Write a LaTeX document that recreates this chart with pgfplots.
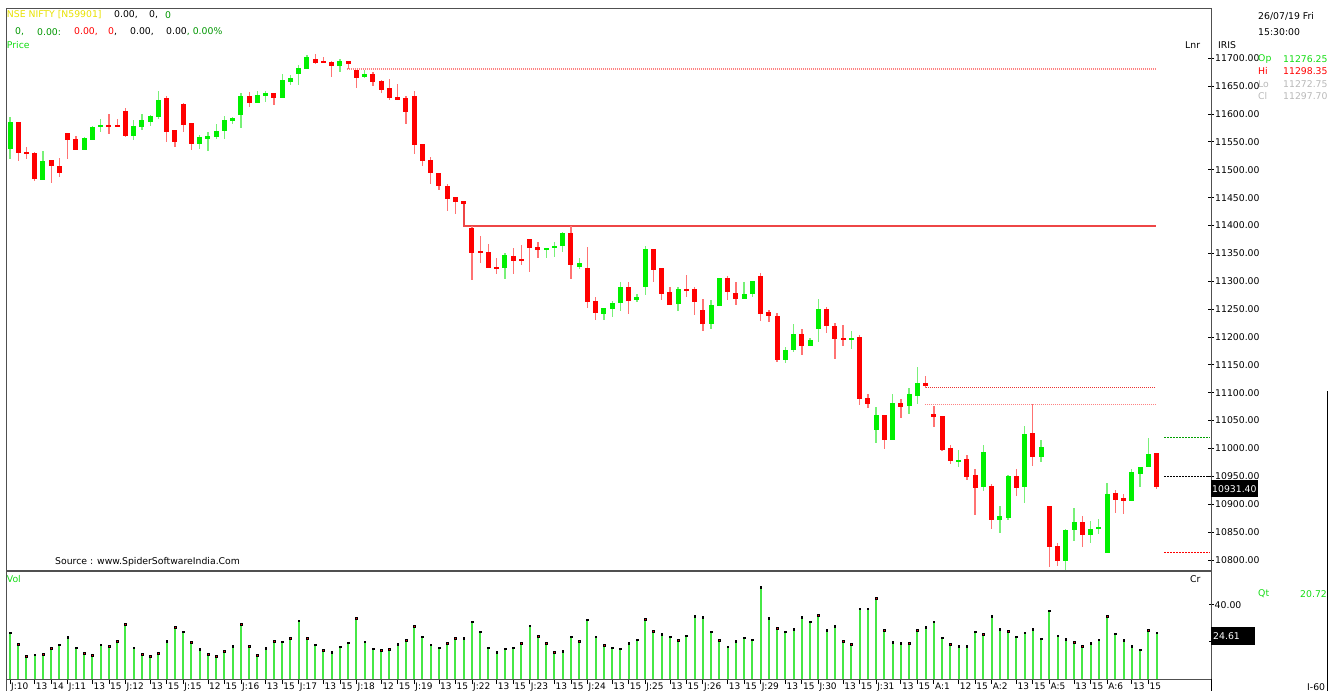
\documentclass[border=0pt]{standalone}
\usepackage{pgfplots}
\pgfplotsset{compat=1.18}
\usepackage{pgfplotstable}
\usepackage{fontspec}
\setmainfont{DejaVu Sans}
\definecolor{cgreen}{RGB}{0,240,0}
\definecolor{cred}{RGB}{255,0,0}
\definecolor{wgreen}{RGB}{120,240,120}
\definecolor{wred}{RGB}{255,115,115}
\definecolor{vgreen}{RGB}{70,232,70}
\definecolor{hdryellow}{RGB}{232,225,0}
\definecolor{txtgreen}{RGB}{0,150,0}
\definecolor{lgreen}{RGB}{20,220,20}
\definecolor{framegray}{RGB}{80,80,80}
\definecolor{lgray}{RGB}{185,185,185}
\definecolor{lnred}{RGB}{238,70,70}
\definecolor{dotred}{RGB}{235,50,50}
\definecolor{dotpink}{RGB}{255,130,130}
\definecolor{dashgreen}{RGB}{0,160,0}

\pgfplotstableread{
i o h l c
0 11538 11595 11519 11585
1 11585 11586 11515 11531
2 11532 11540 11520 11528
3 11531 11531 11479 11484
4 11482 11534 11482 11516
5 11518 11518 11477 11506
6 11507 11522 11487 11495
7 11566 11566 11520 11554
8 11555 11560 11536 11536
9 11536 11558 11536 11557
10 11554 11579 11554 11577
11 11576 11591 11568 11580
12 11580 11600 11565 11576
13 11580 11591 11576 11577
14 11606 11610 11558 11560
15 11561 11590 11554 11579
16 11577 11600 11572 11589
17 11586 11598 11579 11597
18 11594 11641 11592 11626
19 11628 11632 11549 11568
20 11571 11571 11540 11549
21 11618 11620 11568 11581
22 11584 11584 11535 11547
23 11547 11562 11537 11558
24 11555 11568 11534 11561
25 11558 11582 11556 11570
26 11570 11597 11555 11589
27 11588 11595 11582 11592
28 11598 11637 11575 11633
29 11632 11640 11613 11620
30 11620 11641 11620 11634
31 11633 11641 11622 11637
32 11638 11638 11616 11629
33 11629 11671 11628 11661
34 11658 11670 11653 11665
35 11672 11688 11653 11683
36 11680 11706 11680 11702
37 11699 11708 11689 11692
38 11695 11702 11691 11692
39 11693 11695 11667 11687
40 11687 11699 11675 11695
41 11695 11695 11680 11689
42 11679 11679 11646 11665
43 11667 11679 11665 11672
44 11672 11675 11651 11658
45 11659 11661 11638 11643
46 11647 11662 11626 11629
47 11631 11654 11626 11626
48 11628 11632 11583 11604
49 11633 11641 11528 11545
50 11546 11546 11506 11516
51 11518 11522 11474 11495
52 11494 11494 11464 11470
53 11471 11474 11426 11448
54 11451 11451 11421 11443
55 11444 11444 11439 11439
56 11396 11400 11302 11351
57 11354 11381 11332 11351
58 11353 11367 11324 11324
59 11326 11341 11313 11323
60 11323 11351 11304 11347
61 11345 11360 11313 11336
62 11340 11365 11330 11337
63 11376 11376 11317 11360
64 11362 11371 11341 11357
65 11357 11360 11341 11360
66 11360 11370 11344 11364
67 11363 11389 11353 11386
68 11387 11400 11304 11330
69 11326 11342 11322 11332
70 11324 11361 11253 11262
71 11265 11272 11231 11244
72 11242 11253 11231 11252
73 11250 11265 11235 11261
74 11261 11298 11247 11290
75 11290 11299 11241 11265
76 11267 11277 11263 11272
77 11290 11363 11275 11358
78 11358 11358 11298 11321
79 11324 11324 11267 11278
80 11281 11290 11258 11258
81 11260 11290 11247 11286
82 11286 11311 11272 11284
83 11286 11290 11240 11263
84 11249 11268 11211 11224
85 11224 11266 11214 11258
86 11256 11306 11256 11306
87 11306 11310 11267 11280
88 11279 11299 11258 11269
89 11269 11299 11269 11277
90 11278 11301 11272 11301
91 11310 11314 11229 11242
92 11245 11249 11226 11237
93 11238 11243 11156 11158
94 11158 11183 11154 11177
95 11176 11223 11174 11205
96 11205 11214 11168 11183
97 11183 11198 11183 11195
98 11215 11268 11192 11250
99 11250 11254 11208 11219
100 11220 11226 11161 11197
101 11198 11222 11184 11196
102 11196 11210 11178 11198
103 11200 11204 11078 11088
104 11091 11098 11073 11080
105 11034 11074 11010 11060
106 11060 11060 10999 11016
107 11016 11097 11016 11081
108 11081 11088 11055 11075
109 11077 11109 11062 11098
110 11095 11146 11079 11118
111 11118 11131 11108 11112
112 11062 11076 11039 11057
113 11059 11059 10995 10997
114 11001 11007 10973 10978
115 10976 10997 10967 10979
116 10981 10988 10943 10949
117 10952 10963 10880 10930
118 10931 11006 10924 10993
119 10933 10936 10856 10872
120 10872 10896 10849 10878
121 10875 10952 10871 10951
122 10951 10963 10914 10930
123 10930 11040 10903 11026
124 11028 11080 10969 10985
125 10985 11015 10976 11003
126 10897 10897 10788 10824
127 10825 10830 10789 10799
128 10799 10856 10779 10854
129 10853 10893 10834 10868
130 10868 10879 10824 10845
131 10845 10870 10830 10856
132 10855 10874 10847 10859
133 10813 10939 10813 10918
134 10920 10926 10884 10908
135 10911 10918 10882 10906
136 10906 10964 10906 10958
137 10955 10967 10930 10967
138 10966 11019 10966 10990
139 10992 10992 10927 10930
}\ohlc

\pgfplotstableread{
i v
0 25.0
1 18.9
2 12.4
3 13.0
4 13.3
5 16.6
6 18.4
7 22.5
8 16.9
9 13.9
10 12.8
11 18.4
12 17.8
13 20.5
14 29.5
15 16.9
16 13.3
17 12.4
18 13.9
19 20.5
20 27.9
21 25.4
22 19.8
23 16.0
24 13.3
25 12.3
26 15.1
27 17.8
28 29.5
29 17.8
30 12.8
31 16.6
32 20.5
33 20.0
34 22.0
35 31.5
36 22.0
37 18.5
38 15.5
39 14.4
40 17.5
41 19.5
42 32.8
43 20.0
44 16.4
45 15.5
46 16.0
47 18.9
48 20.9
49 28.6
50 22.9
51 18.4
52 16.9
53 19.3
54 22.0
55 22.0
56 30.8
57 25.4
58 16.9
59 14.4
60 16.4
61 16.9
62 19.3
63 28.8
64 23.2
65 19.3
66 14.4
67 15.0
68 22.9
69 20.4
70 31.9
71 22.9
72 18.2
73 16.9
74 16.4
75 19.3
76 21.2
77 32.3
78 25.8
79 24.0
80 22.9
81 20.9
82 23.4
83 33.9
84 33.4
85 25.4
86 20.9
87 17.3
88 20.4
89 22.3
90 21.2
91 49.4
92 32.8
93 27.4
94 25.4
95 26.9
96 33.4
97 30.8
98 34.4
99 26.3
100 28.3
101 20.4
102 18.7
103 37.8
104 37.8
105 43.4
106 26.3
107 19.8
108 19.3
109 19.3
110 26.3
111 27.9
112 30.8
113 22.3
114 18.7
115 17.8
116 17.8
117 25.4
118 24.3
119 33.9
120 26.9
121 25.8
122 22.9
123 24.9
124 26.9
125 21.8
126 36.9
127 23.4
128 21.5
129 19.8
130 17.8
131 19.3
132 21.2
133 33.9
134 24.5
135 20.9
136 17.8
137 15.8
138 26.3
139 25.0
}\vol

\begin{document}
\begin{tikzpicture}[font=\fontsize{9.3bp}{11bp}\selectfont]
\useasboundingbox (0,0) rectangle (1336bp,691bp);

% ---------------- price panel ----------------
\begin{axis}[
  at={(6bp,120bp)}, anchor=south west, scale only axis,
  width=1205bp, height=563bp,
  xmin=-0.485, xmax=145.6, ymin=10780.2, ymax=11790.2,
  clip mode=individual,
  axis line style={framegray, line width=0.9bp},
  xtick=\empty,
  ytick={10800,10850,...,11700},
  scaled y ticks=false,
  ytick pos=right, yticklabel pos=right,
  tick align=center, major tick length=6bp,
  tick style={black, line width=0.8bp},
  yticklabel style={anchor=west, inner sep=0pt, xshift=1bp,
    font=\fontsize{9.3bp}{11bp}\selectfont,
    /pgf/number format/fixed, /pgf/number format/fixed zerofill,
    /pgf/number format/precision=2, /pgf/number format/1000 sep={},
    /pgf/number format/assume math mode=true},
]
% annotation lines
\addplot[color=dotpink, line width=1.3bp, dash pattern=on 1bp off 1bp] coordinates {(40.8,11681) (138.9,11681)};
\addplot[color=lnred, line width=2bp, solid] coordinates {(55,11439) (55,11400) (138.9,11400)};
\addplot[color=dotred, line width=1bp, dash pattern=on 1bp off 1bp] coordinates {(111.1,11109.7) (138.9,11109.7)};
\addplot[color=dotpink, line width=1.3bp, dash pattern=on 1bp off 1bp] coordinates {(110.9,11078.6) (138.9,11078.6)};
\addplot[color=dashgreen, line width=0.9bp, dash pattern=on 2bp off 1bp] coordinates {(139.9,11020) (145.5,11020)};
\addplot[color=black, line width=0.8bp, dash pattern=on 2bp off 1bp] coordinates {(139.9,10950) (145.5,10950)};
\addplot[color=cred, line width=0.8bp, dash pattern=on 2bp off 1bp] coordinates {(139.9,10814) (145.5,10814)};
% wicks
\addplot[draw=none, mark=none,
  restrict expr to domain={\thisrow{c}-\thisrow{o}}{0:100000},
  error bars/.cd, y dir=both, y explicit, error mark=none,
  error bar style={draw=wgreen, line width=1.3bp}]
  table[x=i, y expr={(\thisrow{h}+\thisrow{l})/2}, y error expr={(\thisrow{h}-\thisrow{l})/2}]{\ohlc};
\addplot[draw=none, mark=none,
  restrict expr to domain={\thisrow{o}-\thisrow{c}}{0.001:100000},
  error bars/.cd, y dir=both, y explicit, error mark=none,
  error bar style={draw=wred, line width=1.3bp}]
  table[x=i, y expr={(\thisrow{h}+\thisrow{l})/2}, y error expr={(\thisrow{h}-\thisrow{l})/2}]{\ohlc};
% bodies
\addplot[draw=none, mark=none,
  restrict expr to domain={\thisrow{c}-\thisrow{o}}{0:100000},
  error bars/.cd, y dir=both, y explicit, error mark=none,
  error bar style={draw=cgreen, line width=5bp}]
  table[x=i, y expr={(\thisrow{o}+\thisrow{c})/2}, y error expr={max(abs(\thisrow{c}-\thisrow{o})/2,1.0)}]{\ohlc};
\addplot[draw=none, mark=none,
  restrict expr to domain={\thisrow{o}-\thisrow{c}}{0.001:100000},
  error bars/.cd, y dir=both, y explicit, error mark=none,
  error bar style={draw=cred, line width=5bp}]
  table[x=i, y expr={(\thisrow{o}+\thisrow{c})/2}, y error expr={max(abs(\thisrow{c}-\thisrow{o})/2,1.0)}]{\ohlc};
% last price box
\node[fill=black, text=white, anchor=west, inner xsep=1bp, minimum height=17bp, yshift=-2bp]
  at (axis cs:145.6,10931.4) {10931.40};
\end{axis}
\draw[framegray, line width=1.8bp] (6bp,120bp) -- (1211bp,120bp);

% ---------------- volume panel ----------------
\begin{axis}[
  at={(6bp,12bp)}, anchor=south west, scale only axis,
  width=1205bp, height=108bp,
  xmin=-0.485, xmax=145.6, ymin=0, ymax=58.2,
  clip mode=individual,
  axis line style={framegray, line width=0.9bp},
  xtick={0,3,5,7,10,12,14,17,19,21,24,26,28,31,33,35,38,40,42,45,47,49,52,54,56,59,61,63,66,68,70,73,75,77,80,82,84,87,89,91,94,96,98,101,103,105,108,110,112,115,117,119,122,124,126,129,131,133,136,138},
  xticklabels={J:10,13,14,J:11,13,15,J:12,13,15,J:15,12,15,J:16,13,15,J:17,13,15,J:18,12,15,J:19,13,15,J:22,13,15,J:23,13,15,J:24,13,15,J:25,13,15,J:26,13,15,J:29,13,15,J:30,13,15,J:31,13,15,A:1,12,15,A:2,13,15,A:5,13,15,A:6,13,15},
  xtick pos=bottom,
  xtick align=outside,
  ytick={20,40},
  yticklabels={{},40.00},
  ytick pos=right, yticklabel pos=right,
  ytick align=center,
  major tick length=5bp,
  tick style={black, line width=0.8bp},
  xticklabel style={anchor=north west, inner sep=0pt, xshift=1bp, yshift=1bp,
    font=\fontsize{9bp}{11bp}\selectfont},
  yticklabel style={anchor=west, inner sep=0pt, xshift=1bp,
    font=\fontsize{9.3bp}{11bp}\selectfont},
]
\addplot[ycomb, color=vgreen, line width=2bp] table[x=i, y=v]{\vol};
\addplot[only marks, mark=square*, mark size=0.8bp, mark options={draw=none, fill=cred}] table[x=i, y=v]{\vol};
\node[fill=black, text=white, anchor=west, inner xsep=2bp, text width=40bp, align=left, minimum height=17.5bp, yshift=-2.5bp]
  at (axis cs:145.6,24.61) {24.61};
\end{axis}

% borders
\draw[framegray, line width=0.9bp] (6bp,0bp) -- (6bp,12bp);
\draw[black, line width=0.9bp] (1211bp,0bp) -- (1211bp,12bp);
\draw[black, line width=0.9bp] (1327bp,0bp) -- (1327bp,300bp);

% ---------------- texts ----------------
\node[anchor=west, inner sep=0pt, text=hdryellow] at (6.7bp,676bp) {NSE NIFTY [N59901]};
\node[anchor=west, inner sep=0pt] at (114bp,676bp) {0.00,};
\node[anchor=west, inner sep=0pt] at (149bp,676bp) {0,};
\node[anchor=west, inner sep=0pt, text=txtgreen] at (165bp,676bp) {0};

\node[anchor=west, inner sep=0pt, text=txtgreen] at (15bp,659bp) {0,};
\node[anchor=west, inner sep=0pt, text=txtgreen] at (37bp,659bp) {0.00:};
\node[anchor=west, inner sep=0pt, text=cred] at (74bp,659bp) {0.00,};
\node[anchor=west, inner sep=0pt] at (108bp,659bp) {\textcolor{cred}{0},};
\node[anchor=west, inner sep=0pt] at (130bp,659bp) {0.00,};
\node[anchor=west, inner sep=0pt] at (166bp,659bp) {0.00\textcolor{txtgreen}{, 0.00\%}};
\node[anchor=west, inner sep=0pt, text=lgreen] at (6.7bp,646bp) {Price};

\node[anchor=west, inner sep=0pt] at (1258bp,674.3bp) {26/07/19 Fri};
\node[anchor=west, inner sep=0pt] at (1258bp,659bp) {15:30:00};
\node[anchor=west, inner sep=0pt] at (1185bp,646bp) {Lnr};
\node[anchor=west, inner sep=0pt] at (1218bp,646bp) {IRIS};
\node[anchor=west, inner sep=0pt, text=lgreen] at (1258bp,632.3bp) {Op};
\node[anchor=west, inner sep=0pt, text=lgreen] at (1283bp,632.3bp) {11276.25};
\node[anchor=west, inner sep=0pt, text=cred] at (1258bp,620bp) {Hi};
\node[anchor=west, inner sep=0pt, text=cred] at (1283bp,620bp) {11298.35};
\node[anchor=west, inner sep=0pt, text=lgray] at (1258bp,607.3bp) {Lo};
\node[anchor=west, inner sep=0pt, text=lgray] at (1283bp,607.3bp) {11272.75};
\node[anchor=west, inner sep=0pt, text=lgray] at (1258bp,595bp) {Cl};
\node[anchor=west, inner sep=0pt, text=lgray] at (1283bp,595bp) {11297.70};

\node[anchor=west, inner sep=0pt] at (55bp,129bp) {Source : www.SpiderSoftwareIndia.Com};
\node[anchor=west, inner sep=0pt, text=lgreen] at (6.7bp,112bp) {Vol};
\node[anchor=west, inner sep=0pt] at (1190bp,112bp) {Cr};
\node[anchor=west, inner sep=0pt, text=lgreen] at (1258bp,97bp) {Qt};
\node[anchor=west, inner sep=0pt, text=lgreen] at (1300bp,97bp) {20.72};
\node[anchor=west, inner sep=0pt] at (1307bp,4bp) {I-60};
\end{tikzpicture}
\end{document}
